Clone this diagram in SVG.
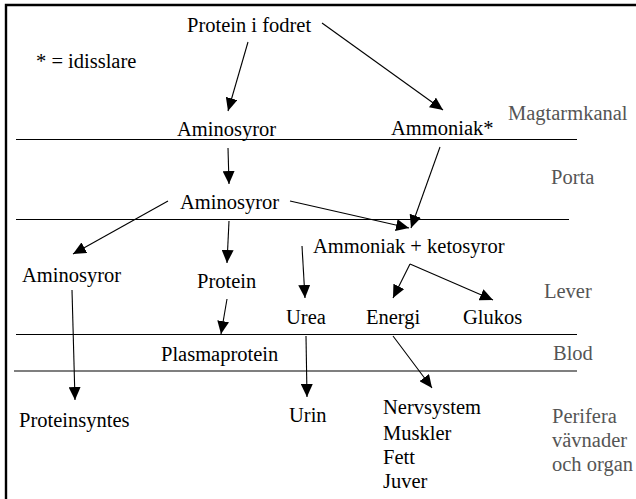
<svg xmlns="http://www.w3.org/2000/svg" width="636" height="499" viewBox="0 0 636 499">
  <defs>
    <marker id="arrow" markerUnits="userSpaceOnUse" markerWidth="13" markerHeight="12" refX="13" refY="6" orient="auto">
      <path d="M0,0 L13,6 L0,12 z" fill="#000"/>
    </marker>
    <style>
      .lbl text { font-family: 'Times New Roman', 'Liberation Serif', Tinos, 'DejaVu Serif', serif; font-size: 20.5px; fill: #000; }
      .lbl text.zone { fill: #555; }
      .sep { stroke: #000; stroke-width: 1.2; fill: none; }
      .frame { stroke: #000; stroke-width: 2.4; fill: none; }
      .conn { stroke: #000; stroke-width: 1.1; fill: none; marker-end: url(#arrow); }
    </style>
  </defs>

  <rect width="636" height="499" fill="#fff"/>

  <!-- outer frame (top and left edges) -->
  <path class="frame" d="M6,499 L6,5 L636,5"/>

  <!-- compartment separators -->
  <g id="separators">
    <line class="sep" x1="16" y1="139.5" x2="577" y2="139.5"/>
    <line class="sep" x1="16" y1="219.5" x2="569" y2="219.5"/>
    <line class="sep" x1="16" y1="334.5" x2="577" y2="334.5"/>
    <line class="sep" x1="14" y1="371" x2="577" y2="371"/>
  </g>

  <g class="lbl">
    <!-- compartment names -->
    <g id="zones">
      <text class="zone" x="508" y="120">Magtarmkanal</text>
      <text class="zone" x="551" y="184">Porta</text>
      <text class="zone" x="544" y="298">Lever</text>
      <text class="zone" x="553" y="360">Blod</text>
      <text class="zone" x="552" y="423">Perifera</text>
      <text class="zone" x="552" y="447">vävnader</text>
      <text class="zone" x="552" y="471">och organ</text>
    </g>

    <g id="legend"><text x="36" y="68">* = idisslare</text></g>

    <g id="protein-fodret"><text x="187" y="32">Protein i fodret</text></g>
    <g id="aminosyror-tarm"><text x="177" y="136">Aminosyror</text></g>
    <g id="ammoniak-tarm"><text x="391" y="135">Ammoniak*</text></g>
    <g id="aminosyror-porta"><text x="180" y="209">Aminosyror</text></g>
    <g id="aminosyror-lever"><text x="22" y="282">Aminosyror</text></g>
    <g id="protein-lever"><text x="197" y="288">Protein</text></g>
    <g id="ammoniak-ketosyror"><text x="313" y="253">Ammoniak + ketosyror</text></g>
    <g id="urea"><text x="286" y="324">Urea</text></g>
    <g id="energi"><text x="366" y="324">Energi</text></g>
    <g id="glukos"><text x="463" y="324">Glukos</text></g>
    <g id="plasmaprotein"><text x="161" y="361">Plasmaprotein</text></g>
    <g id="proteinsyntes"><text x="19" y="427">Proteinsyntes</text></g>
    <g id="urin"><text x="289" y="422">Urin</text></g>
    <g id="vavnader">
      <text x="383" y="414">Nervsystem</text>
      <text x="383" y="440">Muskler</text>
      <text x="383" y="464">Fett</text>
      <text x="383" y="488">Juver</text>
    </g>
  </g>

  <g id="connectors">
    <line class="conn" x1="248" y1="42" x2="228" y2="111"/>
    <line class="conn" x1="322" y1="23" x2="443" y2="110"/>
    <line class="conn" x1="228" y1="148" x2="229" y2="184"/>
    <line class="conn" x1="440" y1="147" x2="411" y2="228"/>
    <line class="conn" x1="290" y1="201" x2="409" y2="228"/>
    <line class="conn" x1="168" y1="201" x2="73" y2="254"/>
    <line class="conn" x1="229" y1="221" x2="227" y2="263"/>
    <line class="conn" x1="227" y1="299" x2="221" y2="334"/>
    <line class="conn" x1="302" y1="246" x2="305" y2="298"/>
    <line class="conn" x1="72" y1="290" x2="75" y2="400"/>
    <line class="conn" x1="306" y1="336" x2="307" y2="397"/>
    <line class="conn" x1="393" y1="336" x2="432" y2="388"/>
    <line class="conn" x1="410" y1="264" x2="393" y2="298"/>
    <line class="conn" x1="410" y1="264" x2="493" y2="300"/>
  </g>
</svg>
